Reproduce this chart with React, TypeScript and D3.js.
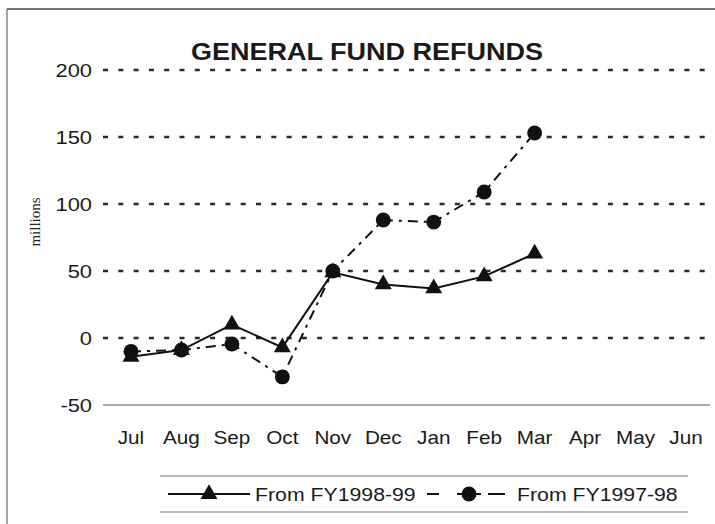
import React, { useEffect, useRef } from 'react'
import * as d3 from 'd3';

const months = ['Jul', 'Aug', 'Sep', 'Oct', 'Nov', 'Dec', 'Jan', 'Feb', 'Mar', 'Apr', 'May', 'Jun'];
const yTicks = [-50, 0, 50, 100, 150, 200];
// values (millions)
const fy1998_99 = [-14, -9, 10, -7, 49, 40, 37, 46, 63];
const fy1997_98 = [-10, -9, -4.5, -29, 50, 88, 86.5, 109, 153];

const width = 715;
const height = 524;
const SX = 1.15; // the scan is a little wide, so stretch the text

export default function App() {
  const svgRef = useRef<SVGSVGElement | null>(null);

  useEffect(() => {
    document.body.style.margin = '0';
    const svg = d3.select(svgRef.current)
      .attr('width', width)
      .attr('height', height);
    svg.selectAll('*').remove();

    const font = 'Liberation Sans, Arial, sans-serif';
    const txt = (x: number, y: number, s: string, size: number, anchor = 'start', weight = 'normal') =>
      svg.append('text')
        .attr('transform', `translate(${x},${y}) scale(${SX},1)`)
        .attr('text-anchor', anchor)
        .attr('font-family', font)
        .attr('font-size', size)
        .attr('font-weight', weight)
        .attr('fill', '#1a1a1a')
        .text(s);

    // frame (scanned page edges)
    svg.append('line').attr('x1', 7).attr('x2', 715).attr('y1', 9).attr('y2', 9)
      .attr('stroke', '#444').attr('stroke-width', 1.5);
    svg.append('line').attr('x1', 7).attr('x2', 7).attr('y1', 9).attr('y2', height)
      .attr('stroke', '#666').attr('stroke-width', 1.2);

    const x = d3.scalePoint<string>().domain(months).range([131, 686]);
    const y = d3.scaleLinear().domain([-50, 200]).range([405, 70]);

    // grid lines
    yTicks.forEach(t => {
      if (t === -50) {
        svg.append('line').attr('x1', 103).attr('x2', 710).attr('y1', y(t)).attr('y2', y(t))
          .attr('stroke', '#555').attr('stroke-width', 1);
      } else {
        svg.append('line').attr('x1', 103).attr('x2', 706).attr('y1', y(t)).attr('y2', y(t))
          .attr('stroke', '#2a2a2a').attr('stroke-width', 2.5)
          .attr('stroke-dasharray', '5,10.3');
      }
      txt(92, y(t) + 7, String(t), 19, 'end');
    });

    // x labels
    months.forEach(m => txt(x(m)!, 444, m, 18, 'middle'));

    // title
    txt(367, 60, 'GENERAL FUND REFUNDS', 23.5, 'middle', 'bold');

    // y axis title
    svg.append('text')
      .attr('transform', `translate(40,222) rotate(-90)`)
      .attr('text-anchor', 'middle')
      .attr('font-family', 'Liberation Serif, Times New Roman, serif')
      .attr('font-size', 15)
      .attr('fill', '#222')
      .text('millions');

    const line = d3.line<number>()
      .x((_, i) => x(months[i])!)
      .y(d => y(d));

    svg.append('path').datum(fy1997_98)
      .attr('fill', 'none').attr('stroke', '#111').attr('stroke-width', 2)
      .attr('stroke-dasharray', '10,6,3,6')
      .attr('d', line);

    svg.append('path').datum(fy1998_99)
      .attr('fill', 'none').attr('stroke', '#111').attr('stroke-width', 2)
      .attr('d', line);

    const tri = d3.symbol().type(d3.symbolTriangle).size(125);
    const dot = d3.symbol().type(d3.symbolCircle).size(175);

    svg.selectAll('.tri').data(fy1998_99).join('path')
      .attr('class', 'tri')
      .attr('d', tri)
      .attr('transform', (d, i) => `translate(${x(months[i])},${y(d)})`)
      .attr('fill', '#111');

    svg.selectAll('.dot').data(fy1997_98).join('path')
      .attr('class', 'dot')
      .attr('d', dot)
      .attr('transform', (d, i) => `translate(${x(months[i])},${y(d)})`)
      .attr('fill', '#111');

    // legend
    svg.append('line').attr('x1', 160).attr('x2', 688).attr('y1', 476).attr('y2', 476)
      .attr('stroke', '#777').attr('stroke-width', 1);
    svg.append('line').attr('x1', 160).attr('x2', 688).attr('y1', 512).attr('y2', 512)
      .attr('stroke', '#777').attr('stroke-width', 1);

    const ly = 494;
    svg.append('line').attr('x1', 168).attr('x2', 250).attr('y1', ly).attr('y2', ly)
      .attr('stroke', '#111').attr('stroke-width', 2);
    svg.append('path').attr('d', tri).attr('transform', `translate(209,${ly})`).attr('fill', '#111');
    txt(255, ly + 7, 'From FY1998-99', 18.5);

    [[427, 439], [457, 481], [488, 505]].forEach(([a, b]) =>
      svg.append('line').attr('x1', a).attr('x2', b).attr('y1', ly).attr('y2', ly)
        .attr('stroke', '#111').attr('stroke-width', 2));
    svg.append('path').attr('d', dot).attr('transform', `translate(469,${ly})`).attr('fill', '#111');
    txt(517, ly + 7, 'From FY1997-98', 18.5);
  }, []);

  return (
    <svg ref={svgRef} style={{ display: 'block', background: '#fff' }}></svg>
  )
}
